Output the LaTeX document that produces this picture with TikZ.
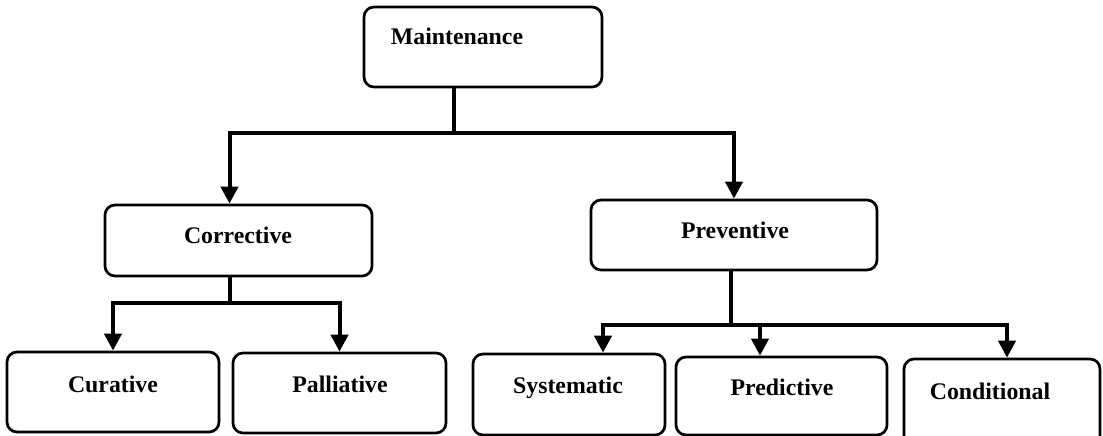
\documentclass[tikz,border=0pt]{standalone}
\usepackage{fontspec}
\setmainfont{Liberation Serif}
\usetikzlibrary{arrows.meta}

\begin{document}
\begin{tikzpicture}[
  x=1pt, y=-1pt,
  box/.style={draw, line width=2.7pt, rounded corners=10pt, inner sep=0pt,
              minimum width=#1},
  box/.default=200pt,
  lbl/.style={anchor=base, inner sep=0pt,
              font=\fontsize{23.8}{28}\selectfont\bfseries},
  conn/.style={line width=4pt},
  arr/.style={line width=4pt, line join=miter,
              -{Triangle[width=17pt,length=17pt]}},
]
\useasboundingbox (0,0) rectangle (1103,436);
\clip (0,0) rectangle (1103,436);

% boxes
\node[box=238pt, minimum height=80pt] (maint) at (483,47) {};
\node[box=267pt, minimum height=71pt] (corr)  at (238.5,240.5) {};
\node[box=286pt, minimum height=70pt] (prev)  at (734,235) {};
\node[box=212pt, minimum height=80pt] (cur)   at (113,392) {};
\node[box=213pt, minimum height=80pt] (pal)   at (339.5,393) {};
\node[box=192pt, minimum height=81pt] (sys)   at (569,394.5) {};
\node[box=211pt, minimum height=78pt] (pred)  at (781.5,396) {};
\node[box=196pt, minimum height=91pt] (cond)  at (1002,404.5) {};

% labels
\node[lbl] (maint-t) at (457,45)  {Maintenance};
\node[lbl] (corr-t)  at (238,243) {Corrective};
\node[lbl] (prev-t)  at (735,238) {Preventive};
\node[lbl] (cur-t)   at (113,392) {Curative};
\node[lbl] (pal-t)   at (340,392) {Palliative};
\node[lbl] (sys-t)   at (568,393) {Systematic};
\node[lbl] (pred-t)  at (782,395) {Predictive};
\node[lbl] (cond-t)  at (990,399) {Conditional};

% junction points of the branches
\coordinate (j1) at (454,133);
\coordinate (j2) at (230,303);
\coordinate (j3) at (731,325);

% Maintenance -> Corrective / Preventive
\draw[conn] (maint.south -| j1) -- (j1);
\draw[arr] (j1) -| ([xshift=-9pt]corr.north);
\draw[arr] (j1) -| (prev.north);

% Corrective -> Curative / Palliative
\draw[conn] (corr.south -| j2) -- (j2);
\draw[arr] (j2) -| (cur.north);
\draw[arr] (j2) -| (pal.north);

% Preventive -> Systematic / Predictive / Conditional
\draw[conn] (prev.south -| j3) -- (j3);
\draw[arr] (j3) -| ([xshift=34pt]sys.north);
\draw[arr] (j3) -| ([xshift=-21.5pt]pred.north);
\draw[arr] (j3) -| ([xshift=5pt]cond.north);
\end{tikzpicture}
\end{document}
